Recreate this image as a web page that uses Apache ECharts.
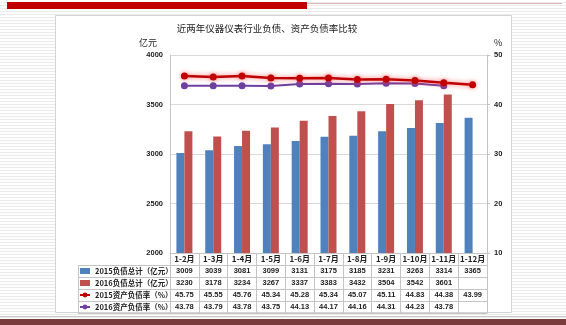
<!DOCTYPE html>
<html>
<head>
<meta charset="utf-8">
<script src="https://cdn.jsdelivr.net/npm/echarts@6/dist/echarts.min.js"></script>
<style>
  html, body { margin: 0; padding: 0; }
  body {
    width: 566px; height: 325px; overflow: hidden;
    background: repeating-linear-gradient(to bottom, #ffffff 0px, #ffffff 2px, #ebebeb 2px, #ebebeb 3px);
  }
  #chart { width: 566px; height: 325px; }
</style>
</head>
<body>
<div id="chart"></div>
<script>
// Periods (cumulative months)
const categories = ['1-2月', '1-3月', '1-4月', '1-5月', '1-6月', '1-7月', '1-8月', '1-9月', '1-10月', '1-11月', '1-12月'];

// Total liabilities, 100 million yuan
const debt2015 = [3009, 3039, 3081, 3099, 3131, 3175, 3185, 3231, 3263, 3314, 3365];
const debt2016 = [3230, 3178, 3234, 3267, 3337, 3383, 3432, 3504, 3542, 3601, null];

// Asset-liability ratio, %
const ratio2015 = [45.75, 45.55, 45.76, 45.34, 45.28, 45.34, 45.07, 45.11, 44.83, 44.38, 43.99];
const ratio2016 = [43.78, 43.79, 43.78, 43.75, 44.13, 44.17, 44.16, 44.31, 44.23, 43.78, null];

// Axis scales
const leftAxisRange = { min: 2000, max: 4000, step: 500 };
const rightAxisRange = { min: 10, max: 50, step: 10 };

const seriesNames = ['2015负债总计（亿元）', '2016负债总计（亿元）', '2015资产负债率（%）', '2016资产负债率（%）'];

const FONT = '"Noto Sans CJK SC", "Liberation Sans", sans-serif';
const NUM_FONT = '"Liberation Sans", Arial, sans-serif';
const LINE = '#c4c4c4';
const ROW_H = 12;

const chart = echarts.init(document.getElementById('chart'), null, { renderer: 'canvas' });

// Data table rows under the category axis
const tableRows = [
  debt2015.map(v => v == null ? '' : String(v)),
  debt2016.map(v => v == null ? '' : String(v)),
  ratio2015.map(v => v == null ? '' : v.toFixed(2)),
  ratio2016.map(v => v == null ? '' : v.toFixed(2))
];

function tableAxis(rowIdx) {
  const row = tableRows[rowIdx];
  return {
    type: 'category',
    data: categories,
    gridIndex: 0,
    position: 'bottom',
    offset: (rowIdx + 1) * ROW_H,
    axisLine: { show: true, lineStyle: { color: LINE, width: 1 } },
    axisTick: { show: true, interval: 0, length: ROW_H, lineStyle: { color: LINE } },
    axisLabel: {
      interval: 0, margin: 0, lineHeight: ROW_H, fontSize: 7.5, fontWeight: 'bold',
      color: '#222', fontFamily: NUM_FONT,
      formatter: (v, i) => row[i]
    },
    splitLine: { show: false }
  };
}

const xAxes = [
  {
    type: 'category',
    data: categories,
    position: 'bottom',
    axisLine: { show: true, lineStyle: { color: LINE } },
    axisTick: { show: true, interval: 0, length: ROW_H, lineStyle: { color: LINE } },
    axisLabel: {
      interval: 0, margin: 0, lineHeight: ROW_H, fontSize: 8, fontWeight: 'bold',
      color: '#222', fontFamily: FONT
    },
    splitLine: { show: false }
  },
  tableAxis(0), tableAxis(1), tableAxis(2), tableAxis(3),
  {
    type: 'category',
    data: categories,
    position: 'bottom',
    offset: 5 * ROW_H,
    axisLine: { show: true, lineStyle: { color: LINE } },
    axisTick: { show: false },
    axisLabel: { show: false }
  }
];

// Row header cell borders to the left of the plot
const headerLeft = 78, headerRight = 170, tableTop = 253 + ROW_H;
const headerLines = [];
for (let r = 0; r <= 4; r++) {
  headerLines.push({
    type: 'line', z: 5,
    shape: { x1: headerLeft, y1: tableTop + r * ROW_H + 0.5, x2: headerRight, y2: tableTop + r * ROW_H + 0.5 },
    style: { stroke: LINE, lineWidth: 1 }
  });
}
headerLines.push({
  type: 'line', z: 5,
  shape: { x1: headerLeft + 0.5, y1: tableTop, x2: headerLeft + 0.5, y2: tableTop + 4 * ROW_H },
  style: { stroke: LINE, lineWidth: 1 }
});

const option = {
  backgroundColor: 'transparent',
  animation: false,
  title: {
    text: '近两年仪器仪表行业负债、资产负债率比较',
    left: 262, top: 19, textAlign: 'center',
    textStyle: { fontSize: 9.5, fontWeight: 'normal', color: '#222', fontFamily: FONT }
  },
  legend: {
    orient: 'vertical',
    left: 79, top: 265, padding: 0,
    itemWidth: 10, itemHeight: 6, itemGap: 0,
    textStyle: { fontSize: 7.5, fontWeight: 'bold', color: '#222', fontFamily: FONT, lineHeight: ROW_H },
    data: [
      { name: seriesNames[0], icon: 'rect' },
      { name: seriesNames[1], icon: 'rect' },
      { name: seriesNames[2] },
      { name: seriesNames[3] }
    ]
  },
  grid: { left: 170, right: 79, top: 55, bottom: 72, containLabel: false },
  xAxis: xAxes,
  yAxis: [
    {
      type: 'value',
      min: leftAxisRange.min, max: leftAxisRange.max, interval: leftAxisRange.step,
      name: '亿元', nameLocation: 'end', nameGap: 8,
      nameTextStyle: { fontSize: 9, color: '#222', fontFamily: FONT, align: 'right', padding: [0, 13, 0, 0] },
      axisLine: { show: true, lineStyle: { color: LINE } },
      axisTick: { show: false },
      axisLabel: { fontSize: 7.5, fontWeight: 'bold', color: '#222', fontFamily: NUM_FONT, margin: 7,
        formatter: v => String(v) },
      splitLine: { show: true, lineStyle: { color: '#d9d9d9', width: 1 } }
    },
    {
      type: 'value',
      min: rightAxisRange.min, max: rightAxisRange.max, interval: rightAxisRange.step,
      name: '%', nameLocation: 'end', nameGap: 8,
      nameTextStyle: { fontSize: 9, color: '#222', fontFamily: FONT, align: 'left', padding: [0, 0, 0, 7] },
      axisLine: { show: true, lineStyle: { color: LINE } },
      axisTick: { show: true, length: 3, lineStyle: { color: LINE } },
      axisLabel: { fontSize: 7.5, fontWeight: 'bold', color: '#222', fontFamily: NUM_FONT, margin: 7,
        formatter: v => String(v) },
      splitLine: { show: false }
    }
  ],
  series: [
    {
      name: seriesNames[0], type: 'bar', xAxisIndex: 0, yAxisIndex: 0,
      data: debt2015, barWidth: 8, barGap: '0%',
      itemStyle: { color: '#4f81bd' }
    },
    {
      name: seriesNames[1], type: 'bar', xAxisIndex: 0, yAxisIndex: 0,
      data: debt2016, barWidth: 8, barGap: '0%',
      itemStyle: { color: '#c0504d' }
    },
    {
      name: seriesNames[2], type: 'line', xAxisIndex: 0, yAxisIndex: 1,
      data: ratio2015, symbol: 'circle', symbolSize: 7, z: 4,
      lineStyle: { color: '#c00000', width: 2.5, shadowColor: 'rgba(255,70,70,0.75)', shadowBlur: 5 },
      itemStyle: { color: '#c00000', shadowColor: 'rgba(255,70,70,0.6)', shadowBlur: 4 }
    },
    {
      name: seriesNames[3], type: 'line', xAxisIndex: 0, yAxisIndex: 1,
      data: ratio2016, symbol: 'circle', symbolSize: 7, z: 3,
      lineStyle: { color: '#6e3fa0', width: 2 },
      itemStyle: { color: '#6e3fa0' }
    }
  ],
  graphic: {
    elements: [
      // white chart panel
      { type: 'rect', z: -10, shape: { x: 55.5, y: 15.5, width: 456, height: 297 },
        style: { fill: '#ffffff', stroke: '#d4d4d4', lineWidth: 1 } },
      // slide header band
      { type: 'rect', z: -10, shape: { x: 7, y: 2, width: 300, height: 7 },
        style: { fill: '#c10000' } },
      { type: 'line', z: -10, shape: { x1: 307, y1: 3.5, x2: 562, y2: 3.5 },
        style: { stroke: '#d9b8b8', lineWidth: 1 } },
      // slide footer band
      { type: 'line', z: -10, shape: { x1: 0, y1: 316.5, x2: 566, y2: 316.5 },
        style: { stroke: '#c8c8c8', lineWidth: 1 } },
      { type: 'rect', z: -10, shape: { x: 0, y: 319, width: 566, height: 6 },
        style: { fill: '#7a3c3c' } },
      ...headerLines
    ]
  }
};

chart.setOption(option);
</script>
</body>
</html>
